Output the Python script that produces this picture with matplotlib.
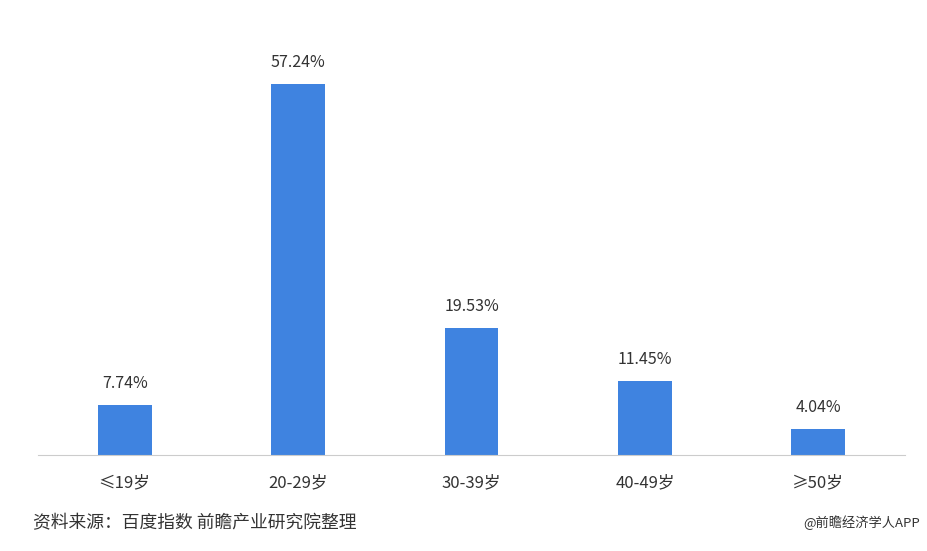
import matplotlib.pyplot as plt

plt.rcParams['font.family'] = ['Noto Sans CJK SC', 'DejaVu Sans']

# 数据
categories = ['≤19岁', '20-29岁', '30-39岁', '40-49岁', '≥50岁']
values = [7.74, 57.24, 19.53, 11.45, 4.04]
value_labels = ['7.74%', '57.24%', '19.53%', '11.45%', '4.04%']

fig = plt.figure(figsize=(9.27, 5.51), dpi=100)
ax = fig.add_axes([38 / 927, 96 / 551, 867 / 927, 415 / 551])

x = range(len(categories))
bars = ax.bar(x, values, width=0.31, color='#3f83e0')

for b, lab in zip(bars, value_labels):
    ax.text(b.get_x() + b.get_width() / 2, b.get_height() + 2.0, lab,
            ha='center', va='bottom', fontsize=11.5, color='#333333')

ax.set_xlim(-0.5, len(categories) - 0.5)
ax.set_ylim(0, 64)
ax.set_xticks(list(x))
ax.set_xticklabels(categories, fontsize=12, color='#333333')
ax.tick_params(axis='x', length=0, pad=14)
ax.set_yticks([])
for s in ['top', 'right', 'left']:
    ax.spines[s].set_visible(False)
ax.spines['bottom'].set_color('#cccccc')

fig.text(33 / 927, 1 - 523 / 551, '资料来源：百度指数 前瞻产业研究院整理',
         fontsize=12.8, color='#333333', va='center', ha='left')
fig.text(920 / 927, 1 - 523 / 551, '@前瞻经济学人APP',
         fontsize=9.5, color='#333333', va='center', ha='right')

fig.savefig('out.png', dpi=100)
